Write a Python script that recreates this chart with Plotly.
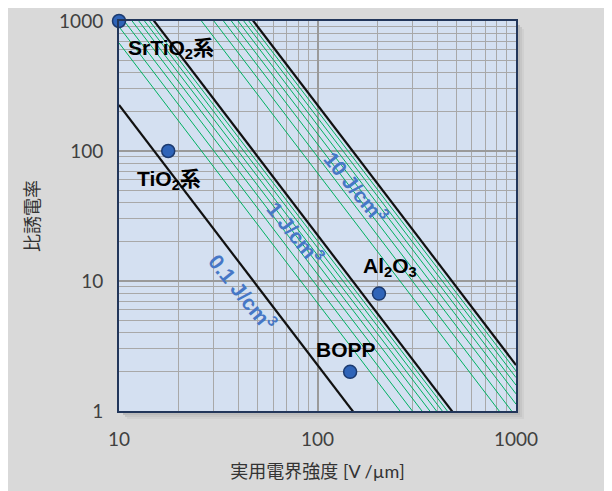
import numpy as np
import plotly.graph_objects as go

# materials (field strength [V/um], relative permittivity)
materials = ["SrTiO<sub>2</sub>系", "TiO<sub>2</sub>系", "Al<sub>2</sub>O<sub>3</sub>", "BOPP"]
field = [10, 17.7, 204, 146]
permittivity = [1000, 100, 8.0, 2.0]

# energy density levels [J/cm3]
main_levels = [0.1, 1, 10]
main_labels = ["0.1 J/cm<sup>3</sup>", "1 J/cm<sup>3</sup>", "10 J/cm<sup>3</sup>"]
sub_levels = [0.3, 0.4, 0.5, 0.6, 0.7, 0.8, 0.9, 3, 4, 5, 6, 7, 8, 9]

eps0 = 8.854e-12
x_line = np.array([10, 1000], dtype=float)


def eps_for(w, e):
    # w in J/cm3, e in V/um  ->  relative permittivity
    return w * 1e6 / (0.5 * eps0 * (e * 1e6) ** 2)


fig = go.Figure()

for w in sub_levels:
    fig.add_trace(go.Scatter(x=x_line, y=eps_for(w, x_line), mode="lines",
                             line=dict(color="#00b062", width=1), hoverinfo="skip"))
for w in main_levels:
    fig.add_trace(go.Scatter(x=x_line, y=eps_for(w, x_line), mode="lines",
                             line=dict(color="#111111", width=2.2), hoverinfo="skip"))

fig.add_trace(go.Scatter(x=field, y=permittivity, mode="markers",
                         marker=dict(size=13, color="#2f64b8",
                                     line=dict(color="#1b3a70", width=1.5)),
                         cliponaxis=False, hoverinfo="skip"))

# labels of materials (pixel offsets from the marker)
offsets = [("left", 7, -28), ("left", -33, -29), ("center", 11, 27), ("center", -4, 22)]
for name, xv, yv, (anc, dx, dy) in zip(materials, field, permittivity, offsets):
    fig.add_annotation(x=np.log10(xv), y=np.log10(yv), text="<b>" + name + "</b>",
                       showarrow=False, xanchor=anc, yanchor="middle",
                       xshift=dx, yshift=dy,
                       font=dict(family="Liberation Sans, Noto Sans CJK JP", size=21, color="#000000"))

# labels of energy lines
label_pos = [(42, 8.2), (78, 23.6), (156, 52.4)]
for txt, (xv, yv) in zip(main_labels, label_pos):
    fig.add_annotation(x=np.log10(xv), y=np.log10(yv), text="<b>" + txt + "</b>",
                       showarrow=False, textangle=51,
                       font=dict(family="Liberation Sans", size=21, color="#4677c6"))

# shadow + plot background
px_x, px_y = 1 / 397, 1 / 390
shapes = []
for off, col in [(8, "#d0d0d0"), (6, "#c6c6c6"), (4, "#bbbbbb"), (2, "#a9a9a9")]:
    shapes.append(dict(type="rect", xref="paper", yref="paper", layer="below",
                       x0=off * px_x, x1=1 + off * px_x, y0=-off * px_y, y1=1 - off * px_y,
                       fillcolor=col, line=dict(width=0)))
shapes.append(dict(type="rect", xref="paper", yref="paper", layer="below",
                   x0=0, x1=1, y0=0, y1=1, fillcolor="#d4e0f1", line=dict(width=0)))

tick_font = dict(family="Lato, Noto Sans CJK JP", size=19, color="#404040")
axis_common = dict(type="log", showline=True, mirror=True, linecolor="#22365a", linewidth=2,
                   showgrid=True, gridcolor="#9a9a9a", gridwidth=2, dtick=1, ticks="",
                   tickfont=tick_font, zeroline=False, ticklabelstandoff=10, automargin=False,
                   minor=dict(dtick="D1", showgrid=True, gridcolor="#a8a8a8", gridwidth=1, ticks=""))

fig.update_xaxes(range=[1, 3], tickvals=[10, 100, 1000], ticktext=["10", "100", "1000"],
                 title=dict(text="実用電界強度 [V /µm]", standoff=17,
                            font=dict(family="Lato, Noto Sans CJK JP", size=18, color="#333333")),
                 **axis_common)
fig.update_yaxes(range=[0, 3], tickvals=[1, 10, 100, 1000], ticktext=["1", "10", "100", "1000"],
                 title=dict(text="比誘電率", standoff=15,
                            font=dict(family="Noto Sans CJK JP", size=18, color="#333333")),
                 **axis_common)

fig.update_layout(width=612, height=491, showlegend=False,
                  margin=dict(l=111, r=104, t=13, b=88),
                  paper_bgcolor="#d9d9d9", plot_bgcolor="rgba(0,0,0,0)",
                  shapes=shapes)

fig.write_html("out.html")
